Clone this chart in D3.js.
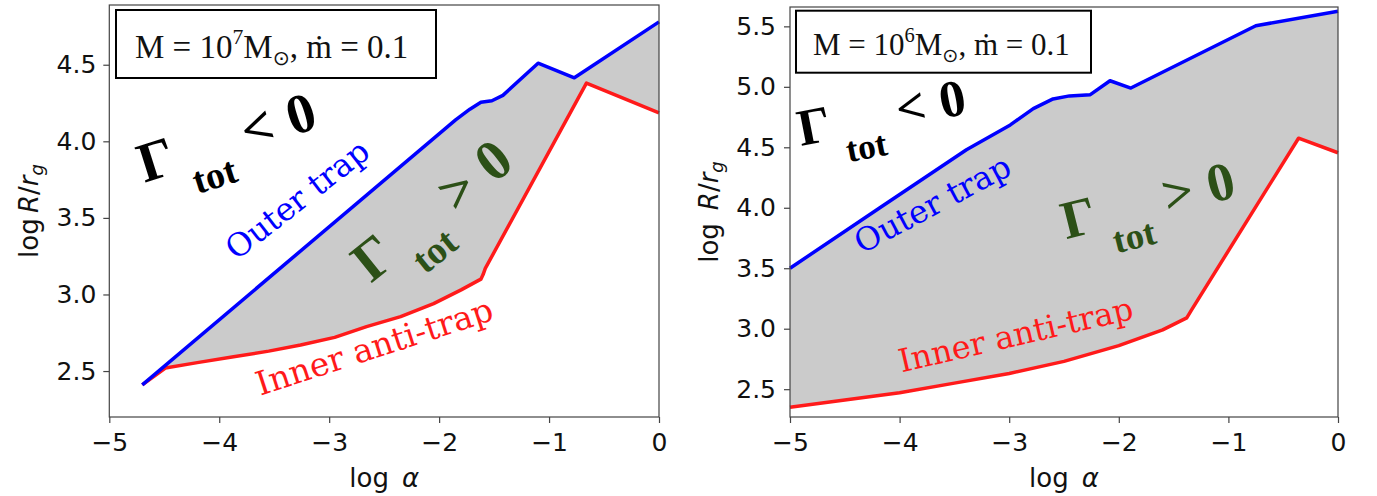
<!DOCTYPE html>
<html>
<head>
<meta charset="utf-8">
<script src="https://cdn.jsdelivr.net/npm/d3@7"></script>
<style>
  body { margin: 0; background: #fff; }
  text { font-family: "DejaVu Sans", sans-serif; }
</style>
</head>
<body>
<div id="chart"></div>
<script>
const xTicks = [-5, -4, -3, -2, -1, 0];
const leftYTicks = [2.5, 3.0, 3.5, 4.0, 4.5];
const rightYTicks = [2.5, 3.0, 3.5, 4.0, 4.5, 5.0, 5.5];

// [log alpha, log R/rg]
const leftOuter = [[-4.70, 2.41], [-1.85, 4.14], [-1.72, 4.21], [-1.62, 4.255], [-1.52, 4.265],
  [-1.42, 4.30], [-1.10, 4.51], [-0.77, 4.415], [0, 4.78]];
const leftInner = [[-4.70, 2.41], [-4.49, 2.52], [-4.2, 2.555], [-3.87, 2.593], [-3.55, 2.63],
  [-3.26, 2.67], [-2.95, 2.72], [-2.66, 2.79], [-2.35, 2.855], [-2.05, 2.94], [-1.8, 3.03],
  [-1.62, 3.10], [-1.60, 3.13], [-1.58, 3.17], [-0.66, 4.38], [0, 4.185]];
const rightOuter = [[-5, 3.5], [-4.18, 4.0], [-3.39, 4.48], [-2.99, 4.685], [-2.78, 4.82],
  [-2.6, 4.90], [-2.45, 4.925], [-2.26, 4.935], [-2.08, 5.05], [-1.89, 4.99], [-0.75, 5.505], [0, 5.625]];
const rightInner = [[-5, 2.35], [-4.5, 2.41], [-4.0, 2.47], [-3.5, 2.55], [-3.0, 2.63], [-2.5, 2.73],
  [-2.0, 2.86], [-1.6, 2.99], [-1.38, 3.09], [-1.34, 3.15], [-0.36, 4.575], [0, 4.455]];

const width = 1377, height = 496;
const svg = d3.select("#chart").append("svg")
  .attr("width", width)
  .attr("height", height)
  .style("background", "#fff");

const green = "#2c5017";
const serif = "'Liberation Serif', 'DejaVu Serif', serif";

function drawPanel(p) {
  const x = d3.scaleLinear().domain([-5, 0]).range([p.left, p.right]);
  const y = d3.scaleLinear().domain(p.yDomain).range([p.bottom, p.top]);
  const g = svg.append("g");

  // shaded region between the two traps
  const line = d3.line().x(d => x(d[0])).y(d => y(d[1]));
  const region = p.outer.concat(p.inner.slice().reverse());
  g.append("path")
    .attr("d", line(region) + "Z")
    .attr("fill", "#cbcbcb");

  g.append("path").datum(p.inner)
    .attr("fill", "none").attr("stroke", "#ff1a1a").attr("stroke-width", 3.5)
    .attr("stroke-linejoin", "round").attr("d", line);
  g.append("path").datum(p.outer)
    .attr("fill", "none").attr("stroke", "#0000ff").attr("stroke-width", 3.5)
    .attr("stroke-linejoin", "round").attr("d", line);

  // frame
  g.append("rect")
    .attr("x", p.left).attr("y", p.top)
    .attr("width", p.right - p.left).attr("height", p.bottom - p.top)
    .attr("fill", "none").attr("stroke", "#444").attr("stroke-width", 1.2);

  const xAxis = g.append("g")
    .attr("transform", `translate(0,${p.bottom})`)
    .call(d3.axisBottom(x).tickValues(xTicks).tickFormat(d3.format("d")).tickSize(6).tickPadding(10));
  const yAxis = g.append("g")
    .attr("transform", `translate(${p.left},0)`)
    .call(d3.axisLeft(y).tickValues(p.yTicks).tickFormat(d3.format(".1f")).tickSize(6).tickPadding(p.yPad));
  [xAxis, yAxis].forEach(a => {
    a.select(".domain").remove();
    a.selectAll("line").attr("stroke", "#444").attr("stroke-width", 1.2);
    a.selectAll("text").attr("fill", "#111").style("font-size", "25px")
      .style("font-family", "'DejaVu Sans', sans-serif");
  });

  // axis labels
  const xl = g.append("text")
    .attr("x", (p.left + p.right) / 2).attr("y", 487)
    .attr("text-anchor", "middle").style("font-size", "26px").attr("fill", "#111");
  xl.append("tspan").text("log\u2002");
  xl.append("tspan").style("font-style", "italic").text("\u03b1");

  const yl = g.append("text")
    .attr("transform", `translate(${p.ylabX},${(p.top + p.bottom) / 2}) rotate(-90)`)
    .attr("text-anchor", "middle").style("font-size", "26px").attr("fill", "#111");
  yl.append("tspan").text(p.logSpace);
  yl.append("tspan").style("font-style", "italic").text("R");
  yl.append("tspan").text("/");
  yl.append("tspan").style("font-style", "italic").text("r");
  yl.append("tspan").style("font-style", "italic").style("font-size", "18px").attr("dy", 5).text("g");

  // parameter box
  const b = p.box;
  g.append("rect").attr("x", b.x).attr("y", b.y).attr("width", b.w).attr("height", b.h)
    .attr("fill", "#fff").attr("stroke", "#000").attr("stroke-width", 2);
  const bt = g.append("text").attr("x", b.x + b.padX).attr("y", b.base)
    .style("font-family", serif).style("font-size", b.size + "px").attr("fill", "#111");
  bt.append("tspan").text("M = 10");
  bt.append("tspan").attr("dy", -b.size * 0.42).style("font-size", b.size * 0.66 + "px").text(b.exp);
  bt.append("tspan").attr("dy", b.size * 0.42).text("M");
  bt.append("tspan").attr("dy", b.size * 0.22).style("font-size", b.size * 0.62 + "px")
    .style("font-family", "'DejaVu Sans', sans-serif").text("\u2299");
  bt.append("tspan").attr("dy", -b.size * 0.22).text(", \u1e41 = 0.1");

  // region labels
  function gamma(a, sign, color) {
    const s = a.size;
    const t = g.append("text")
      .attr("transform", `translate(${x(a.at[0])},${y(a.at[1])}) rotate(${a.angle})`)
      .attr("fill", color)
      .style("font-family", serif).style("font-weight", "bold").style("font-size", s + "px");
    t.append("tspan").text("\u0393");
    t.append("tspan").attr("dx", s * 0.2).attr("dy", s * 0.48)
      .style("font-size", s * 0.68 + "px").text("tot");
    t.append("tspan").attr("dx", s * 0.3).attr("dy", -s * 0.48).text(sign);
    t.append("tspan").attr("dx", s * 0.28).text("0");
  }
  gamma(p.neg, "<", "#000");
  gamma(p.pos, ">", green);

  function curveLabel(a, label, color) {
    g.append("text")
      .attr("transform", `translate(${x(a.at[0])},${y(a.at[1])}) rotate(${a.angle})`)
      .attr("text-anchor", "middle").attr("dominant-baseline", "central")
      .attr("fill", color)
      .style("font-family", "'DejaVu Serif', serif").style("font-size", a.size + "px")
      .text(label);
  }
  curveLabel(p.outerLab, "Outer trap", "#0000ff");
  curveLabel(p.innerLab, "Inner anti-trap", "#ff1a1a");
}

drawPanel({
  left: 109.3, right: 659, top: 5, bottom: 417,
  yDomain: [2.2, 4.89], yTicks: leftYTicks, yPad: 7,
  outer: leftOuter, inner: leftInner,
  ylabX: 38, logSpace: "log\u2009",
  box: { x: 116, y: 10, w: 320, h: 68, padX: 19, base: 58, size: 33, exp: "7" },
  neg: { at: [-4.68, 3.73], angle: -17.5, size: 56 },
  pos: { at: [-2.62, 3.07], angle: -39, size: 57 },
  outerLab: { at: [-3.29, 3.62], angle: -38, size: 32 },
  innerLab: { at: [-2.59, 2.66], angle: -18, size: 33 }
});

drawPanel({
  left: 790, right: 1338, top: 7, bottom: 417,
  yDomain: [2.27, 5.66], yTicks: rightYTicks, yPad: 8,
  outer: rightOuter, inner: rightInner,
  ylabX: 718, logSpace: "log\u2002",
  box: { x: 796, y: 10.7, w: 295, h: 62, padX: 17, base: 55, size: 31, exp: "6" },
  neg: { at: [-4.9, 4.51], angle: -11, size: 52 },
  pos: { at: [-2.48, 3.74], angle: -14, size: 54 },
  outerLab: { at: [-3.70, 4.03], angle: -28, size: 32 },
  innerLab: { at: [-2.94, 2.95], angle: -13, size: 32 }
});
</script>
</body>
</html>
